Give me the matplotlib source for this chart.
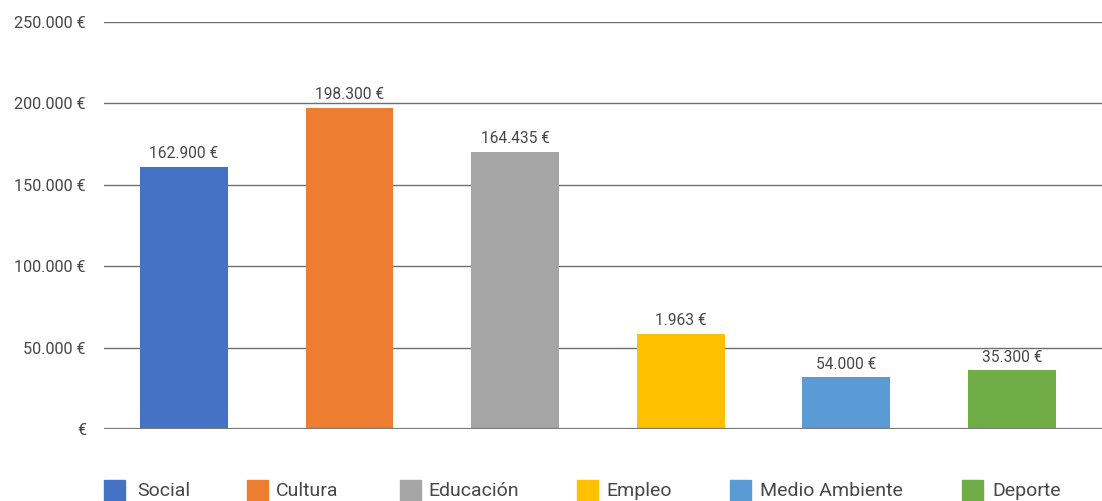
import matplotlib
matplotlib.use("Agg")
import matplotlib.pyplot as plt
from matplotlib.patches import Rectangle

categories = ["Social", "Cultura", "Educación", "Empleo", "Medio Ambiente", "Deporte"]
bar_values = [161100, 197400, 170300, 58400, 31900, 36200]
bar_labels = ["162.900 €", "198.300 €", "164.435 €", "1.963 €", "54.000 €", "35.300 €"]
colors = ["#4472C4", "#ED7D31", "#A5A5A5", "#FFC000", "#5B9BD5", "#70AD47"]
y_ticks = [0, 50000, 100000, 150000, 200000, 250000]
y_tick_labels = ["€", "50.000 €", "100.000 €", "150.000 €", "200.000 €", "250.000 €"]

plt.rcParams['font.family'] = ['Roboto', 'DejaVu Sans']
text_color = "#474747"

W, H = 1102, 501
fig = plt.figure(figsize=(W / 100, H / 100), dpi=100)
ax = fig.add_axes([104 / W, 72 / H, (W - 104) / W, (429 - 22) / H])

x = list(range(len(categories)))
ax.bar(x, bar_values, width=0.53, color=colors, zorder=3)
for xi, v, lab in zip(x, bar_values, bar_labels):
    ax.annotate(lab, (xi, v), xytext=(0, 4), textcoords="offset points",
                ha="center", va="bottom", fontsize=11.2, color=text_color)

ax.set_xlim(-0.483, 5.544)
ax.set_ylim(0, 250000)
ax.set_yticks(y_ticks)
ax.set_yticklabels(y_tick_labels, fontsize=11.7, color=text_color)
ax.tick_params(axis="y", length=0, pad=13)
ax.set_xticks([])
for s in ax.spines.values():
    s.set_visible(False)
ax.grid(axis="y", color="#6e6e6e", linewidth=1.0, zorder=0)
ax.axhline(0, color="#7a7a7a", linewidth=1.6, zorder=4)

# legend
sq_x = [104, 247, 400, 577, 730, 962]
txt_x = [137, 276, 428, 606, 760, 992]
for c, lab, sx, tx in zip(colors, categories, sq_x, txt_x):
    fig.patches.append(Rectangle((sx / W, 0), 21 / W, 21 / H, transform=fig.transFigure,
                                 color=c, figure=fig))
    fig.text(tx / W, 5 / H, lab, fontsize=14, color=text_color, ha="left",
             va="baseline")

fig.savefig("out.png", dpi=100)
